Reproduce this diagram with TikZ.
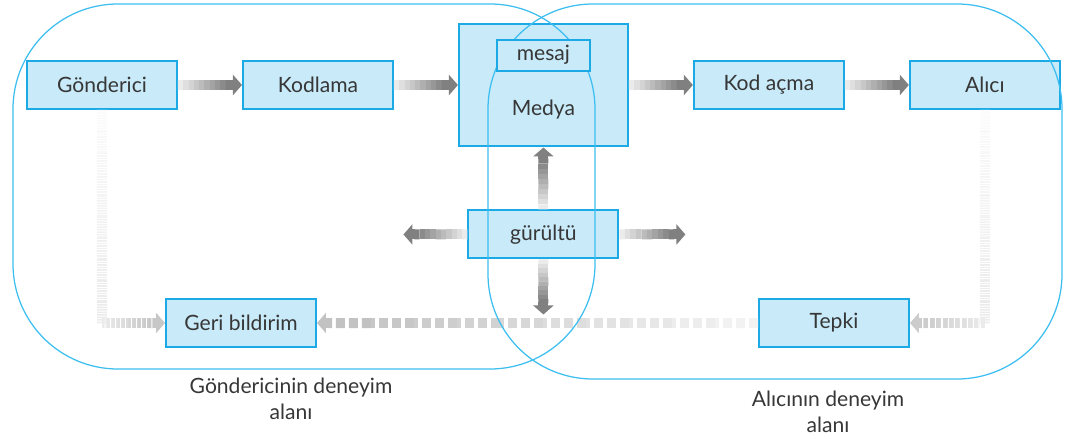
\documentclass[tikz,border=0pt]{standalone}
\usepackage{fontspec}
\setmainfont{Lato}
\usetikzlibrary{arrows.meta, positioning, calc}
\definecolor{boxfill}{RGB}{200,234,249}
\definecolor{boxline}{RGB}{28,170,230}
\definecolor{fieldline}{RGB}{60,190,240}
\definecolor{txt}{RGB}{55,55,55}

% band that goes from light to dark: [dash]{from}{to}{level at start}{level at end}
\newcommand{\fadeband}[5][]{%
	\foreach \k [evaluate=\k as \pa using \k/10, evaluate=\k as \pb using (\k+1)/10, evaluate=\k as \lv using #4+(#5-#4)*\k/9] in {0,...,9}
		\draw [band, draw=black!\lv, #1] ($(#2)!\pa!(#3)$) -- ($(#2)!\pb!(#3)$);
}
\newcommand{\fadearrow}[5][]{%
	\coordinate (tipb) at ($(#3)!2.2mm!(#2)$);
	\fadeband[#1]{#2}{tipb}{#4}{#5}
	\draw [band, draw=black!#5, -{Triangle[length=1.8mm, width=4mm]}] ($(#3)!2.4mm!(#2)$) -- (#3);
}

\begin{document}
\begin{tikzpicture}
		[
	x=0.02cm, y=-0.02cm,
	font=\fontsize{12}{15}\selectfont, text=txt,
	elem/.style={draw=boxline,fill=boxfill,line width=0.4mm,rectangle,node distance=1.28cm,minimum width=3cm,minimum height=0.96cm},
	field/.style={draw=fieldline,line width=0.25mm,rounded corners=2.1cm},
	band/.style={line width=2mm}
	]
		\useasboundingbox (0,0) rectangle (1065,439);

		\node (gon) [elem] at (102,85) {Gönderici};
		\node (kod) [elem,right=of gon] {Kodlama};
		\node (med) [elem,right=of kod,minimum width=3.38cm,minimum height=2.46cm,label={[yshift=-4.9mm]center:Medya}] {};
		\node (kac) [elem,right=of med] {Kod açma};
		\node (alc) [elem,right=of kac] {Alıcı};
		\node (gur) [elem,below=1.24cm of med] {gürültü};
		\node (ger) [elem] at (241,323) {Geri bildirim};
		\node (tep) [elem] at (834,323) {Tepki};

		\coordinate (gurW) at ($(gur.west)+(-64,0)$);
		\coordinate (gurE) at ($(gur.east)+(66,0)$);
		\coordinate (gurS) at ($(gur.south)+(0,55)$);
		\coordinate (gcor) at (gon.south |- ger.west);
		\coordinate (acor) at (alc.south |- tep.east);

		\fadearrow{gon.east}{kod.west}{8}{50}
		\fadearrow{kod.east}{med.west}{8}{50}
		\fadearrow{med.east}{kac.west}{8}{50}
		\fadearrow{kac.east}{alc.west}{8}{50}
		\fadearrow{gur.north}{med.south}{8}{50}
		\fadearrow{gur.south}{gurS}{8}{50}
		\fadearrow{gur.west}{gurW}{8}{50}
		\fadearrow{gur.east}{gurE}{8}{50}

		% feedback loop
		\fadeband[dash pattern=on 0.3mm off 0.2mm]{gon.south}{gcor}{2}{8}
		\fadearrow[dash pattern=on 0.5mm off 0.2mm]{gcor}{ger.west}{8}{22}
		\fadeband[dash pattern=on 0.3mm off 0.2mm]{alc.south}{acor}{2}{8}
		\fadearrow[dash pattern=on 0.8mm off 0.3mm]{acor}{tep.east}{8}{20}
		\fadearrow[dash pattern=on 1.8mm off 0.8mm]{tep.west}{ger.east}{5}{24}

		\draw [field] (13,4) rectangle (595,369);
		\draw [field] (488,4) rectangle (1062,379);
		\node (lcap) [align=center] at (291,399) {Göndericinin deneyim\\alanı};
		\node (rcap) [align=center] at (828,412) {Alıcının deneyim\\alanı};

		\node (mes) [elem,inner sep=1pt,minimum width=1.86cm,minimum height=0.62cm,below=0.32cm of med.north] {mesaj};
	\end{tikzpicture}
\end{document}
